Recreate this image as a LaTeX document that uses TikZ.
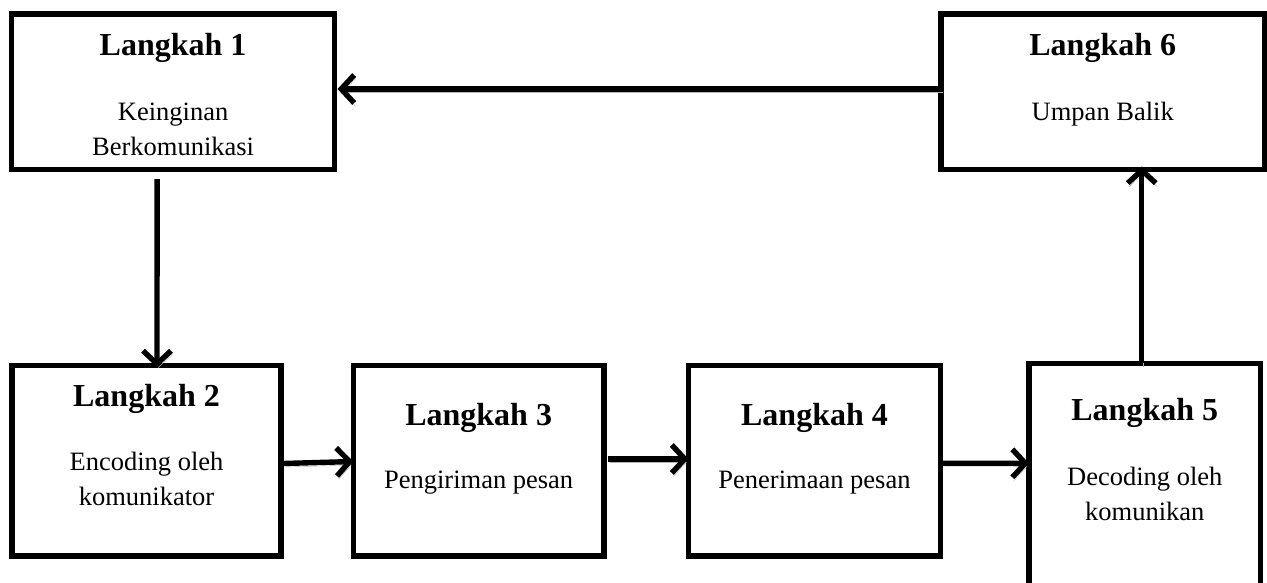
\documentclass[tikz,border=0pt]{standalone}
\usepackage{fontspec}
\setmainfont{Liberation Serif}
\usetikzlibrary{arrows.meta}
\tikzset{
  box/.style={draw, line width=5.4pt, outer sep=0pt, inner sep=0pt},
  ttl/.style={font=\fontsize{32}{38}\selectfont\bfseries, inner sep=0pt, anchor=base},
  txt/.style={font=\fontsize{26.5}{32}\selectfont, inner sep=0pt, anchor=base},
  arr/.style={line width=5.4pt, -{Straight Barb[length=13pt,width=28pt]},
    preaction={draw=gray!60, transform canvas={shift={(1.5pt,-3.5pt)}}}}
}
\begin{document}
\begin{tikzpicture}[x=1pt,y=-1pt]
\useasboundingbox (0,0) rectangle (1267,582);
\clip (0,0) rectangle (1267,582);
% boxes
\node[box, minimum width=322.8pt, minimum height=155.5pt] (b1) at (173.1,91.75) {};
\node[box, minimum width=323.5pt, minimum height=155.5pt] (b6) at (1102.75,91.75) {};
\node[box, minimum width=269pt, minimum height=190.5pt] (b2) at (146.5,460.75) {};
\node[box, minimum width=250.7pt, minimum height=190.5pt] (b3) at (478.65,460.75) {};
\node[box, minimum width=252pt, minimum height=190.5pt] (b4) at (814.5,460.75) {};
\node[box, minimum width=231.5pt, minimum height=240pt] (b5) at (1144.75,483.3) {};
% texts
\node[ttl] (t1) at (173.1,55) {Langkah 1};
\node[txt] (d1a) at (173.1,120.7) {Keinginan};
\node[txt] (d1b) at (173.1,155) {Berkomunikasi};
\node[ttl] (t6) at (1102.75,55) {Langkah 6};
\node[txt] (d6) at (1102.75,120) {Umpan Balik};
\node[ttl] (t2) at (146.5,406.7) {Langkah 2};
\node[txt] (d2a) at (146.5,470) {Encoding oleh};
\node[txt] (d2b) at (146.5,505.7) {komunikator};
\node[ttl] (t3) at (478.65,425) {Langkah 3};
\node[txt] (d3) at (478.65,488.3) {Pengiriman pesan};
\node[ttl] (t4) at (814.5,425) {Langkah 4};
\node[txt] (d4) at (814.5,488.3) {Penerimaan pesan};
\node[ttl] (t5) at (1144.75,420) {Langkah 5};
\node[txt] (d5a) at (1144.75,485) {Decoding oleh};
\node[txt] (d5b) at (1144.75,520) {komunikan};
% arrows
\draw[arr] ([yshift=2.75pt]b6.west) -- ([xshift=3pt,yshift=2.75pt]b1.east);
\draw[arr] ([xshift=-16pt,yshift=-9.5pt]b1.south) -- ([xshift=10.5pt,yshift=-2pt]b2.north);
\draw[arr] ([xshift=2pt,yshift=-2.75pt]b2.east) -- ([yshift=-0.75pt]b3.west);
\draw[arr] ([xshift=4pt,yshift=1.75pt]b3.east) -- ([yshift=1.75pt]b4.west);
\draw[arr] ([xshift=2.5pt,yshift=-2.5pt]b4.east) -- ([yshift=20pt]b5.west);
\draw[arr] ([xshift=-3pt]b5.north) -- ([xshift=39pt,yshift=3pt]b6.south);
\end{tikzpicture}
\end{document}
